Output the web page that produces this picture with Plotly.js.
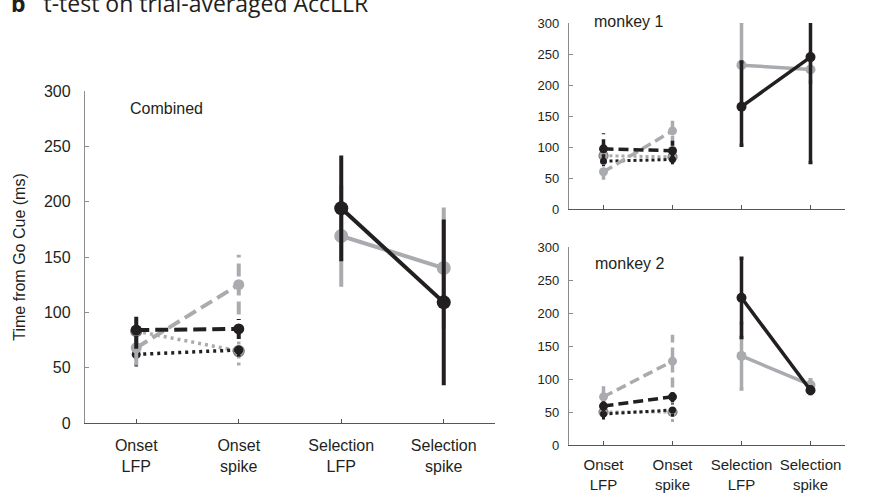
<!DOCTYPE html>
<html><head><meta charset="utf-8">
<script src="https://cdn.plot.ly/plotly-3.0.1.min.js"></script>
<style>html,body{margin:0;padding:0;background:#fff}#chart{width:873px;height:495px}</style>
</head><body><div id="chart"></div>
<script>
// ---------- data ----------
const categories = ["Onset<br>LFP", "Onset<br>spike", "Selection<br>LFP", "Selection<br>spike"];
const categoryPos = [0, 1, 2, 3];
const onsetX = [0, 1];
const selectionX = [2, 3];
const yTicks = [0, 50, 100, 150, 200, 250, 300];

// Combined
const combSelGray = [169, 140];       const combSelGrayErr = [44, 53];
const combSelBlack = [194, 109];      const combSelBlackErr = [46, 73];
const combOnGrayDash = [68, 125];     const combOnGrayDashErr = [16, 27];
const combOnBlackDash = [84, 85];     const combOnBlackDashErr = [17, 9];
const combOnGrayDot = [83, 65];       const combOnGrayDotErr = [10, 13];
const combOnBlackDot = [62, 66];      const combOnBlackDotErr = [11, 6];

// Monkey 1
const m1SelGray = [232, 225];         const m1SelGrayErr = [70, 20];
const m1SelBlack = [165, 245];        const m1SelBlackErrUp = [72, 170];   const m1SelBlackErrDown = [62, 170];
const m1OnGrayDash = [60, 126];       const m1OnGrayDashErr = [13, 24];
const m1OnBlackDash = [97, 94];       const m1OnBlackDashErr = [25, 16];
const m1OnGrayDot = [86, 84];         const m1OnGrayDotErr = [10, 12];
const m1OnBlackDot = [77, 80];        const m1OnBlackDotErr = [8, 8];

// Monkey 2
const m2SelGray = [135, 91];          const m2SelGrayErr = [50, 8];
const m2SelBlack = [223, 83];         const m2SelBlackErr = [60, 5];
const m2OnGrayDash = [73, 127];       const m2OnGrayDashErr = [22, 40];
const m2OnBlackDash = [59, 73];       const m2OnBlackDashErr = [8, 8];
const m2OnGrayDot = [50, 50];         const m2OnGrayDotErr = [12, 15];
const m2OnBlackDot = [47, 53];        const m2OnBlackDotErr = [8, 10];

// ---------- styles ----------
const BLACK = '#231f20';
const GRAY = '#a9abae';
const W = 873, H = 495;

const traces = [];

function errTrace(xs, ys, es, color, width, dash, xa, ya) {
  const ex = [], ey = [];
  xs.forEach((x, i) => { ex.push(x, x, null); ey.push(ys[i] - es[i], ys[i] + es[i], null); });
  traces.push({x: ex, y: ey, xaxis: xa, yaxis: ya, mode: 'lines', type: 'scatter',
    line: {color: color, width: width, dash: dash}, hoverinfo: 'skip', showlegend: false});
}

function series(xs, ys, es, color, width, dash, msize, xa, ya, mline, solidErr, esMinus) {
  if (!solidErr) errTrace(xs, ys, es, color, width, dash, xa, ya);
  const t = {x: xs, y: ys, xaxis: xa, yaxis: ya, mode: 'lines+markers', type: 'scatter',
    line: {color: color, width: width, dash: dash},
    marker: {color: color, size: msize, line: mline || {width: 0}},
    showlegend: false, hoverinfo: 'skip'};
  if (solidErr) {
    t.error_y = {type: 'data', array: es, visible: true, color: color, thickness: width, width: 2};
    if (esMinus) { t.error_y.symmetric = false; t.error_y.arrayminus = esMinus; }
  }
  traces.push(t);
}

function panel(d, xa, ya, lw, ms, msSel, dashS, dotS) {
  const dotRing = {color: '#7a7a7a', width: 1.2};
  series(onsetX, d.gDot, d.gDotE, GRAY, lw - 0.5, dotS, ms, xa, ya, dotRing, false);
  series(onsetX, d.bDot, d.bDotE, BLACK, lw - 0.5, dotS, ms - 2, xa, ya, null, false);
  series(onsetX, d.gDash, d.gDashE, GRAY, lw, dashS, ms, xa, ya, null, false);
  series(onsetX, d.bDash, d.bDashE, BLACK, lw, dashS, ms, xa, ya, null, false);
  series(selectionX, d.gSel, d.gSelE, GRAY, lw, 'solid', msSel, xa, ya, null, true);
  series(selectionX, d.bSel, d.bSelE, BLACK, lw, 'solid', msSel, xa, ya, null, true, d.bSelEm);
}

panel({gDot: combOnGrayDot, gDotE: combOnGrayDotErr, bDot: combOnBlackDot, bDotE: combOnBlackDotErr,
       gDash: combOnGrayDash, gDashE: combOnGrayDashErr, bDash: combOnBlackDash, bDashE: combOnBlackDashErr,
       gSel: combSelGray, gSelE: combSelGrayErr, bSel: combSelBlack, bSelE: combSelBlackErr},
      'x', 'y', 4, 11, 14, '13px,6px', '3px,4px');
panel({gDot: m1OnGrayDot, gDotE: m1OnGrayDotErr, bDot: m1OnBlackDot, bDotE: m1OnBlackDotErr,
       gDash: m1OnGrayDash, gDashE: m1OnGrayDashErr, bDash: m1OnBlackDash, bDashE: m1OnBlackDashErr,
       gSel: m1SelGray, gSelE: m1SelGrayErr, bSel: m1SelBlack, bSelE: m1SelBlackErrUp, bSelEm: m1SelBlackErrDown},
      'x2', 'y2', 3.5, 9, 10, '10px,5px', '3px,3px');
panel({gDot: m2OnGrayDot, gDotE: m2OnGrayDotErr, bDot: m2OnBlackDot, bDotE: m2OnBlackDotErr,
       gDash: m2OnGrayDash, gDashE: m2OnGrayDashErr, bDash: m2OnBlackDash, bDashE: m2OnBlackDashErr,
       gSel: m2SelGray, gSelE: m2SelGrayErr, bSel: m2SelBlack, bSelE: m2SelBlackErr},
      'x3', 'y3', 3.5, 9, 10, '10px,5px', '3px,3px');

// ---------- layout ----------
const px = v => v / W;
const py = v => 1 - v / H;
const FONT = 'Liberation Sans, Arial, sans-serif';

function xAxis(l, r, anchor, fs, standoff) {
  return {domain: [px(l), px(r)], anchor: anchor, range: [-0.5, 3.5], tickvals: categoryPos, ticktext: categories,
    showgrid: false, zeroline: false, showline: true, linecolor: '#555', linewidth: 1.2,
    ticks: 'inside', ticklen: 4, tickcolor: '#555', tickwidth: 1, ticklabelstandoff: standoff,
    tickfont: {family: FONT, size: fs, color: '#231f20'}, fixedrange: true};
}
function yAxis(top, bottom, anchor, fs, fam, standoff, title) {
  const a = {domain: [py(bottom), py(top)], anchor: anchor, range: [0, 300], tickvals: yTicks,
    showgrid: false, zeroline: false, showline: true, linecolor: '#8c8c8c', linewidth: 1.2,
    ticks: 'inside', ticklen: 4, tickcolor: '#8c8c8c', tickwidth: 1, ticklabelstandoff: standoff,
    tickfont: {family: fam, size: fs, color: '#231f20'}, fixedrange: true};
  if (title) a.title = {text: title, font: {family: FONT, size: 16, color: '#231f20'}, standoff: 14};
  return a;
}

const layout = {
  width: W, height: H, margin: {l: 0, r: 0, t: 0, b: 0}, paper_bgcolor: '#fff', plot_bgcolor: '#fff',
  showlegend: false,
  xaxis: xAxis(85, 495, 'y', 16, 8),
  yaxis: yAxis(91, 423, 'x', 16, FONT, 10, 'Time from Go Cue (ms)'),
  xaxis2: Object.assign(xAxis(569, 845, 'y2', 15, 8), {showticklabels: false}),
  yaxis2: yAxis(23, 209, 'x2', 13, 'Liberation Sans Narrow, Arial Narrow, Liberation Sans', 6),
  xaxis3: xAxis(569, 845, 'y3', 15, 6),
  yaxis3: yAxis(247, 445, 'x3', 13, FONT, 6),
  annotations: [
    {text: '<b>b</b>   t-test on trial-averaged AccLLR', xref: 'paper', yref: 'paper', x: px(9), y: py(3),
     xanchor: 'left', yanchor: 'middle', showarrow: false, font: {family: 'Open Sans, sans-serif', size: 23, color: '#231f20'}},
    {text: 'Combined', xref: 'paper', yref: 'paper', x: px(128), y: py(109), xanchor: 'left', yanchor: 'middle',
     showarrow: false, font: {family: FONT, size: 16, color: '#231f20'}},
    {text: 'monkey 1', xref: 'paper', yref: 'paper', x: px(592), y: py(22), xanchor: 'left', yanchor: 'middle',
     showarrow: false, font: {family: FONT, size: 16, color: '#231f20'}},
    {text: 'monkey 2', xref: 'paper', yref: 'paper', x: px(593), y: py(263), xanchor: 'left', yanchor: 'middle',
     showarrow: false, font: {family: FONT, size: 16, color: '#231f20'}}
  ]
};

Plotly.newPlot('chart', traces, layout, {staticPlot: true, displayModeBar: false});
</script></body></html>
